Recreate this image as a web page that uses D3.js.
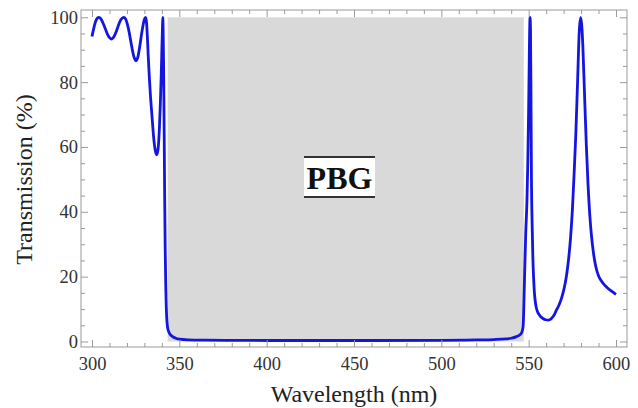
<!DOCTYPE html>
<meta charset="utf-8">
<style>

body {
  margin: 0;
  background: #fff;
}

svg {
  display: block;
  font-family: "Liberation Serif", "Times New Roman", serif;
}

.axis path {
  display: none;
}

.axis line {
  stroke: #9a9a9a;
}

.frame {
  fill: none;
  stroke: #9a9a9a;
}

</style>
<svg width="638" height="408"></svg>
<script src="https://d3js.org/d3.v7.min.js"></script>
<script>

// transmission spectrum
var wavelength = [
  300, 301, 302, 303, 304, 305, 306, 307, 308, 309, 310, 311, 312, 313, 314,
  315, 316, 317, 318.3, 319.2, 320.2, 321.2, 322.2, 323.2, 324.2, 325.2,
  326.2, 327.2, 328.2, 329.2, 330, 330.7, 331.2, 331.7, 332.2, 332.8, 333.5,
  334.2, 334.9, 335.5, 336.2, 337, 337.6, 338.1, 338.6, 339.1, 339.6, 340,
  340.3, 340.5, 340.7, 341, 341.3, 341.6, 341.9, 342.2, 342.5, 342.8, 343.2,
  343.8, 344.5, 345.5, 346.5, 348, 350, 355, 365, 380, 420, 460, 500, 520,
  530, 537, 540, 543, 545, 546, 546.8, 547.2, 547.6, 548.3, 549, 549.5, 550,
  550.4, 550.8, 551.05, 551.3, 551.6, 552, 552.4, 552.8, 553.3, 554, 554.8,
  555.7, 556.8, 558.2, 559.8, 561.2, 562, 563, 564, 565, 566, 567, 568, 569,
  570, 571, 572, 573, 574, 575, 576, 577, 578, 579, 579.8, 580.6, 581, 582,
  583, 584, 585, 586, 587, 588, 589, 590, 591, 592, 593, 594, 595, 596, 597,
  598, 599, 600
];
var transmission = [
  94.1, 96.6, 98.6, 99.7, 100, 99.6, 98.6, 97.3, 95.9, 94.6, 93.7, 93.3, 93.6,
  94.5, 95.8, 97.3, 98.7, 99.6, 100, 99.5, 98, 95.6, 92.6, 89.7, 87.5, 86.6,
  87.6, 90.5, 94.2, 97.5, 99.4, 100, 98.5, 94, 88, 81.7, 75.5, 70.5, 65.5,
  61.8, 59, 57.6, 58.5, 61, 66, 73, 81.5, 90, 96, 100, 97, 85, 66, 45, 29,
  18, 11, 7, 4.6, 3.2, 2.4, 1.8, 1.4, 1.0, 0.7, 0.5, 0.4, 0.35, 0.3, 0.3,
  0.35, 0.5, 0.6, 0.8, 1.0, 1.5, 2.1, 2.7, 4.5, 10, 19, 33, 43, 55, 72, 90,
  100, 96, 78, 50, 36, 26, 20, 15, 11.5, 9.6, 8.5, 7.7, 7.1, 6.7, 6.6, 6.7,
  7.1, 7.7, 8.6, 9.8, 10.8, 12.1, 13.7, 15.7, 18.2, 21.6, 26.1, 32.1, 40.3,
  51.5, 64, 80, 96, 100, 96, 91.5, 76, 60.8, 48.3, 39, 32.4, 27.7, 24.3,
  21.9, 20.3, 19.2, 18.4, 17.7, 17.1, 16.6, 16.1, 15.7, 15.3, 14.9, 14.5
];

var xTicks = [300, 350, 400, 450, 500, 550, 600];
var yTicks = [0, 20, 40, 60, 80, 100];
var band = [343.3, 547.2];
var bandLabel = "PBG";

var data = wavelength.map(function(w, i) {
  return {w: w, t: transmission[i]};
});

var frame = {left: 81, top: 10, right: 627, bottom: 347};

var x = d3.scaleLinear().domain([293.7, 606.3]).range([frame.left, frame.right]),
    y = d3.scaleLinear().domain([-1.7, 102.25]).range([frame.bottom, frame.top]);

var svg = d3.select("svg");

// band gap
svg.append("rect")
    .attr("x", x(band[0]))
    .attr("y", y(100))
    .attr("width", x(band[1]) - x(band[0]))
    .attr("height", y(0) - y(100))
    .style("fill", "#d9d9d9");

// label box
var lx = x(441.7), ly = y(50.7);
svg.append("rect")
    .attr("x", lx - 35.5)
    .attr("y", ly - 20)
    .attr("width", 71)
    .attr("height", 40)
    .style("fill", "#fff");
[-20, 20].forEach(function(d) {
  svg.append("line")
      .attr("x1", lx - 35.5)
      .attr("x2", lx + 35.5)
      .attr("y1", ly + d)
      .attr("y2", ly + d)
      .style("stroke", "#333")
      .style("stroke-width", 2);
});
svg.append("text")
    .attr("x", lx)
    .attr("y", ly + 12)
    .attr("text-anchor", "middle")
    .style("font-size", "32px")
    .style("font-weight", "bold")
    .style("fill", "#111")
    .text(bandLabel);

// curve
var line = d3.line()
    .x(function(d) { return x(d.w); })
    .y(function(d) { return y(d.t); })
    .curve(d3.curveMonotoneX);

svg.append("path")
    .datum(data)
    .attr("d", line)
    .style("fill", "none")
    .style("stroke", "#1515e0")
    .style("stroke-width", 2.8)
    .style("stroke-linejoin", "round");

// frame and ticks (inward, minor ones shorter)
var xMinor = d3.range(300, 601, 10).filter(function(v) { return v % 50; }),
    yMinor = d3.range(0, 101, 5).filter(function(v) { return v % 20; });

function ticks(axis, pos, major, minor, pad) {
  var g = svg.append("g").attr("class", "axis").attr("transform", pos)
      .call(axis.tickValues(major).tickSize(-7).tickPadding(pad || 0)
        .tickFormat(pad ? d3.format("d") : ""));
  g.selectAll("text")
      .style("font-family", "'Liberation Serif', 'Times New Roman', serif")
      .style("font-size", "18.5px")
      .style("fill", "#333");
  svg.append("g").attr("class", "axis").attr("transform", pos)
      .call(axis.tickValues(minor).tickSize(-4).tickFormat(""));
}

ticks(d3.axisBottom(x), "translate(0," + frame.bottom + ")", xTicks, xMinor, 10);
ticks(d3.axisTop(x), "translate(0," + frame.top + ")", xTicks, xMinor, 0);
ticks(d3.axisLeft(y), "translate(" + frame.left + ",0)", yTicks, yMinor, 3);
ticks(d3.axisRight(y), "translate(" + frame.right + ",0)", yTicks, yMinor, 0);

svg.append("rect")
    .attr("class", "frame")
    .attr("x", frame.left)
    .attr("y", frame.top)
    .attr("width", frame.right - frame.left)
    .attr("height", frame.bottom - frame.top);

// axis titles
svg.append("text")
    .attr("x", (frame.left + frame.right) / 2)
    .attr("y", 401.5)
    .attr("text-anchor", "middle")
    .style("font-size", "24px")
    .style("fill", "#222")
    .text("Wavelength (nm)");

svg.append("text")
    .attr("transform", "translate(32," + (frame.top + frame.bottom + 2) / 2 + ") rotate(-90)")
    .attr("text-anchor", "middle")
    .style("font-size", "24px")
    .style("fill", "#222")
    .text("Transmission (%)");

</script>
